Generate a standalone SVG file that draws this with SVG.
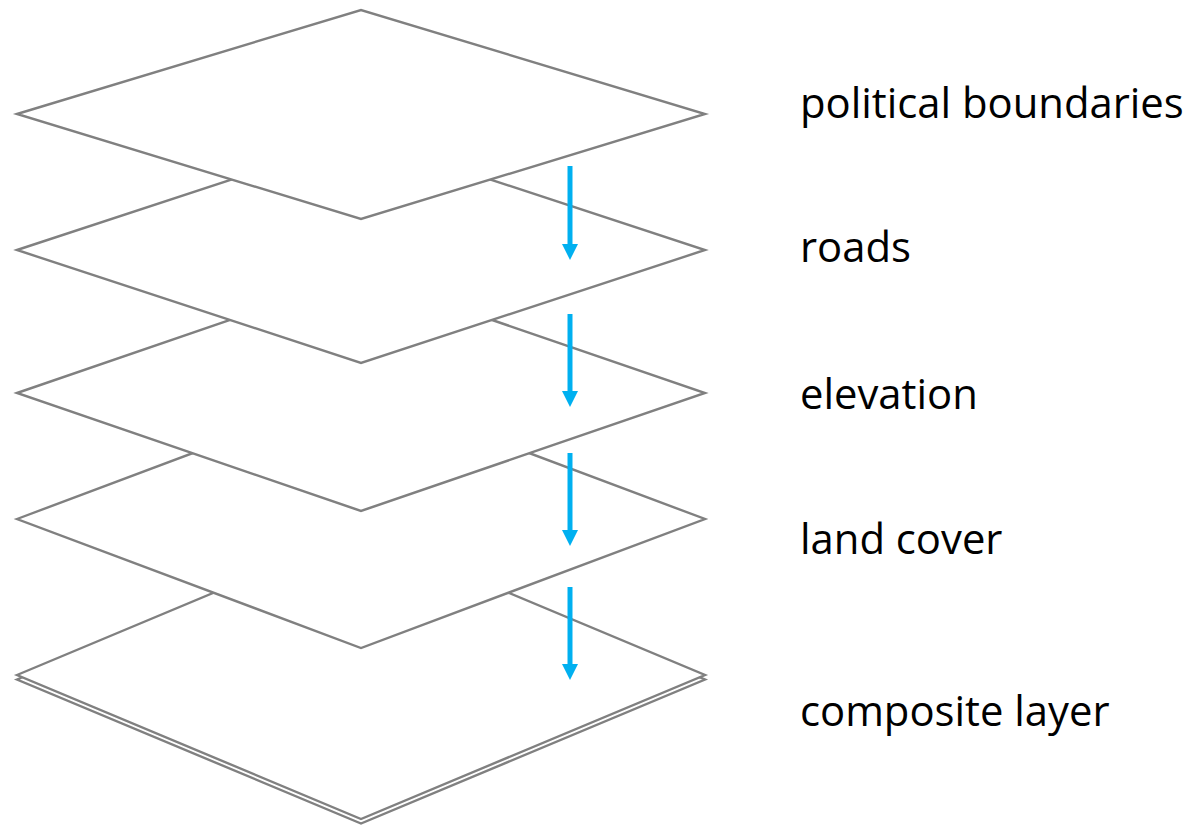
<svg xmlns="http://www.w3.org/2000/svg" width="1198" height="828" viewBox="0 0 1198 828">
  <defs>
    <style>
      .layer { fill: #ffffff; stroke: #808080; stroke-width: 2.4; stroke-linejoin: miter; }
      .flow { stroke: #00B0F0; stroke-width: 5; fill: none; }
      .label { font-family: "Open Sans", "Liberation Sans", sans-serif; font-size: 41.8px; fill: #000000; }
    </style>
    <marker id="head" viewBox="0 0 16 16" refX="0" refY="8" markerWidth="16" markerHeight="16" markerUnits="userSpaceOnUse" orient="auto">
      <path d="M0,0 L16,8 L0,16 Z" fill="#00B0F0"/>
    </marker>
  </defs>

  <!-- stacked map layers, drawn from bottom to top so upper sheets overlap -->
  <g id="composite-layer">
    <polygon class="layer" points="17,679.5 361,535.5 705,679.5 361,823.5"/>
    <polygon class="layer" points="17,675 361,531 705,675 361,819"/>
  </g>
  <g id="land-cover">
    <polygon class="layer" points="17,519 361,390 705,519 361,648"/>
  </g>
  <g id="elevation">
    <polygon class="layer" points="17,393 361,275 705,393 361,511"/>
  </g>
  <g id="roads">
    <polygon class="layer" points="17,250 361,137 705,250 361,363"/>
  </g>
  <g id="political-boundaries">
    <polygon class="layer" points="17,114 361,10 705,114 361,219"/>
  </g>

  <!-- downward arrows between layers -->
  <g id="connectors">
    <line class="flow" x1="570" y1="166" x2="570" y2="244" marker-end="url(#head)"/>
    <line class="flow" x1="570" y1="314" x2="570" y2="391" marker-end="url(#head)"/>
    <line class="flow" x1="570" y1="453" x2="570" y2="530" marker-end="url(#head)"/>
    <line class="flow" x1="570" y1="587" x2="570" y2="664" marker-end="url(#head)"/>
  </g>

  <!-- layer names -->
  <g id="labels">
    <text class="label" x="800" y="118">political boundaries</text>
    <text class="label" x="800" y="262">roads</text>
    <text class="label" x="800" y="409">elevation</text>
    <text class="label" x="800" y="554">land cover</text>
    <text class="label" x="800" y="726">composite layer</text>
  </g>
</svg>
